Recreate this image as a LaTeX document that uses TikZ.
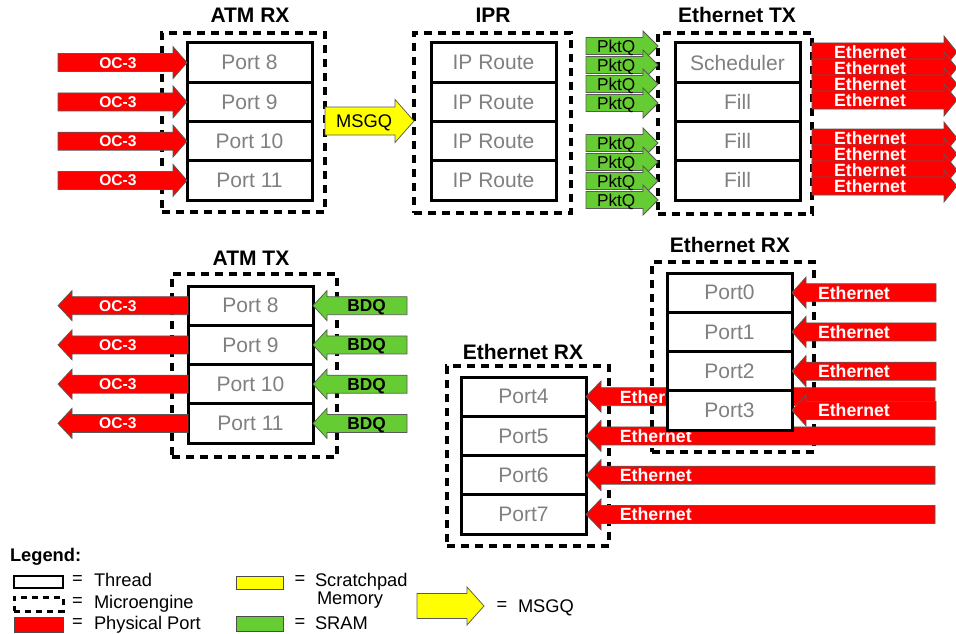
\documentclass[tikz,border=0pt]{standalone}
\usepackage{fontspec}
\setmainfont{Liberation Sans}
\usetikzlibrary{calc}

\definecolor{portred}{RGB}{255,0,0}
\definecolor{sramgreen}{RGB}{102,204,51}
\definecolor{padyellow}{RGB}{255,255,0}
\definecolor{threadgray}{RGB}{128,128,128}

\newcounter{arwlab}
% Horizontal block arrow:
% #1 style, #2 tail, #3 tip, #4 head length, #5 shaft half-height,
% #6 head half-height, #7 label style, #8 label position (0 = tail, 1 = tip), #9 label
\newcommand\blockarrow[9]{%
  \draw[#1] let \p1=(#2), \p2=(#3), \n1={sign(\x2-\x1)} in
    (\x1,\y2+#5) -- (\x2-\n1*#4,\y2+#5) -- (\x2-\n1*#4,\y2+#6)
    -- (\x2,\y2) -- (\x2-\n1*#4,\y2-#6) -- (\x2-\n1*#4,\y2-#5)
    -- (\x1,\y2-#5) -- cycle;
  \stepcounter{arwlab}%
  \node[#7] (arwlab\arabic{arwlab}) at ($(#2)!#8!(#3)$) {#9};
}

\begin{document}
\begin{tikzpicture}[x=1pt,y=-1pt,
  every node/.style={inner sep=0pt, outer sep=0pt, text depth=0pt},
  thread/.style={draw, line width=3pt, fill=white, minimum width=125pt,
    minimum height=39.25pt, text=threadgray, font=\fontsize{21}{24}\selectfont},
  mengine/.style={draw, line width=3.5pt, dash pattern=on 8pt off 6pt},
  title/.style={font=\fontsize{21}{24}\selectfont\bfseries},
  portarrow/.style={fill=portred, draw=black!65, line width=0.75pt},
  sramarrow/.style={fill=sramgreen, draw=black!65, line width=0.75pt},
  padarrow/.style={fill=padyellow, draw=black!65, line width=0.75pt},
  oclbl/.style={text=white, font=\fontsize{15.6}{18}\selectfont\bfseries},
  ethlbl/.style={text=white, font=\fontsize{17.7}{20}\selectfont\bfseries},
  pktlbl/.style={font=\fontsize{17.2}{20}\selectfont},
  bdqlbl/.style={font=\fontsize{17.3}{20}\selectfont\bfseries},
  msglbl/.style={font=\fontsize{18.3}{21}\selectfont},
  legfont/.style={font=\fontsize{18.3}{21}\selectfont},
  legtext/.style={legfont, anchor=west},
]
\useasboundingbox (0,0) rectangle (956,634);

% ---------- microengines (dashed frames) ----------
\node[mengine, minimum width=163pt, minimum height=179pt] (atmrxME) at (243.5,122.5) {};
\node[mengine, minimum width=157pt, minimum height=180pt] (iprME)   at (492.5,123) {};
\node[mengine, minimum width=154pt, minimum height=181pt] (ethtxME) at (735,123.5) {};
\node[mengine, minimum width=165pt, minimum height=183pt] (atmtxME) at (254.5,365.5) {};
\node[mengine, minimum width=162pt, minimum height=190pt] (erxaME)  at (733,357) {};
\node[mengine, minimum width=162pt, minimum height=180pt] (erxbME)  at (528,456) {};

% ---------- titles ----------
\node[title] (tatmrx) at (250,15)  {ATM RX};
\node[title] (tipr)   at (493,15)  {IPR};
\node[title] (tethtx) at (737,15)  {Ethernet TX};
\node[title] (tatmtx) at (251,258) {ATM TX};
\node[title] (terxa)  at (730,245) {Ethernet RX};
\node[title] (terxb)  at (523,352) {Ethernet RX};

% ---------- ATM RX ----------
\foreach \lab [count=\i from 0] in {Port 8,Port 9,Port 10,Port 11}
  \node[thread] (ar\i) at (249.5,62.625+39.25*\i) {\lab};
\foreach \i in {0,...,3}{
  \coordinate (ocin\i) at (58,0 |- ar\i.west);
  \blockarrow{portarrow}{ocin\i}{ar\i.west}{14pt}{9pt}{16pt}{oclbl}{0.465}{OC-3}
}

% ---------- MSGQ between ATM RX and IPR ----------
\coordinate (msgq) at (323,121);
\blockarrow{padarrow}{atmrxME.east |- msgq}{iprME.west |- msgq}{19pt}{14pt}{21.5pt}{msglbl}{0.44}{MSGQ}

% ---------- IPR ----------
\foreach \i in {0,...,3}
  \node[thread] (ip\i) at (493.5,62.625+39.25*\i) {IP Route};

% ---------- packet queues into Ethernet TX ----------
\foreach \y [count=\i] in {46,65,84,103,143,162,181,200}{
  \coordinate (pq\i) at (586,\y);
  \blockarrow{sramarrow}{pq\i}{ethtxME.west |- pq\i}{15pt}{8.5pt}{15pt}{pktlbl}{0.42}{PktQ}
}

% ---------- Ethernet TX ----------
\foreach \lab [count=\i from 0] in {Scheduler,Fill,Fill,Fill}
  \node[thread] (et\i) at (737.5,62.625+39.25*\i) {\lab};
\foreach \y [count=\i] in {52,68,84,100,138,154,170,186}{
  \coordinate (eo\i) at (957,\y);
  \blockarrow{portarrow}{ethtxME.east |- eo\i}{eo\i}{13pt}{9pt}{16pt}{ethlbl}{0.40}{Ethernet}
}

% ---------- ATM TX ----------
\foreach \lab [count=\i from 0] in {Port 8,Port 9,Port 10,Port 11}
  \node[thread] (at\i) at (250.5,305.625+39.25*\i) {\lab};
\foreach \i in {0,...,3}{
  \coordinate (ocout\i) at (58,0 |- at\i.west);
  \blockarrow{portarrow}{at\i.west}{ocout\i}{14pt}{9pt}{15pt}{oclbl}{0.54}{OC-3}
  \coordinate (bdq\i) at (407,0 |- at\i.east);
  \blockarrow{sramarrow}{bdq\i}{at\i.east}{14pt}{9pt}{15pt}{bdqlbl}{0.43}{BDQ}
}

% ---------- Ethernet RX (ports 4-7) ----------
\foreach \lab [count=\i from 0] in {Port4,Port5,Port6,Port7}
  \node[thread] (rl\i) at (523.5,396.625+39.25*\i) {\lab};
\foreach \i in {0,...,3}{
  \coordinate (lin\i) at (935,0 |- rl\i.east);
  \blockarrow{portarrow}{lin\i}{rl\i.east}{15pt}{9pt}{15.5pt}{ethlbl}{0.80}{Ethernet}
}

% ---------- Ethernet RX (ports 0-3) ----------
\foreach \lab [count=\i from 0] in {Port0,Port1,Port2,Port3}
  \node[thread] (ru\i) at (729.5,292.625+39.25*\i) {\lab};
\foreach \i in {0,...,3}{
  \coordinate (uin\i) at (936,0 |- ru\i.east);
  \blockarrow{portarrow}{uin\i}{ru\i.east}{14pt}{9pt}{15.5pt}{ethlbl}{0.57}{Ethernet}
}

% ---------- legend ----------
\node[legfont, font=\fontsize{18.3}{21}\selectfont\bfseries, anchor=west] (legtitle) at (10,555) {Legend:};

\node[draw, line width=2pt, minimum width=49pt, minimum height=12pt] (lgthread) at (38.5,582) {};
\node[draw, line width=3pt, dash pattern=on 6pt off 5pt, minimum width=49pt, minimum height=14pt] (lgme) at (38.5,604) {};
\node[draw=black!70, line width=0.8pt, fill=portred, minimum width=49pt, minimum height=15pt] (lgport) at (38.5,624.5) {};
\node[draw=black!70, line width=0.8pt, fill=padyellow, minimum width=47pt, minimum height=13pt] (lgpad) at (259.5,582.5) {};
\node[draw=black!70, line width=0.8pt, fill=sramgreen, minimum width=47pt, minimum height=15pt] (lgsram) at (259.5,623.5) {};

\node[legfont] (eqa) at (77.5,580) {=};
\node[legfont] (eqb) at (77.5,602) {=};
\node[legfont] (eqc) at (77.5,623) {=};
\node[legtext] (lta) at (94,580) {Thread};
\node[legtext] (ltb) at (94,602) {Microengine};
\node[legtext] (ltc) at (94,623) {Physical Port};

\node[legfont] (eqd) at (300,580) {=};
\node[legfont] (eqe) at (300,623) {=};
\node[legtext] (ltd) at (315,580) {Scratchpad};
\node[legtext] (lte) at (317,598) {Memory};
\node[legtext] (ltf) at (315,623) {SRAM};

\coordinate (lgtail) at (417,606);
\coordinate (lgtip) at (484,606);
\blockarrow{padarrow}{lgtail}{lgtip}{17pt}{12.5pt}{19pt}{msglbl}{0.5}{}
\node[legfont] (eqf) at (502,606) {=};
\node[legtext] (ltg) at (518,606) {MSGQ};
\end{tikzpicture}
\end{document}
